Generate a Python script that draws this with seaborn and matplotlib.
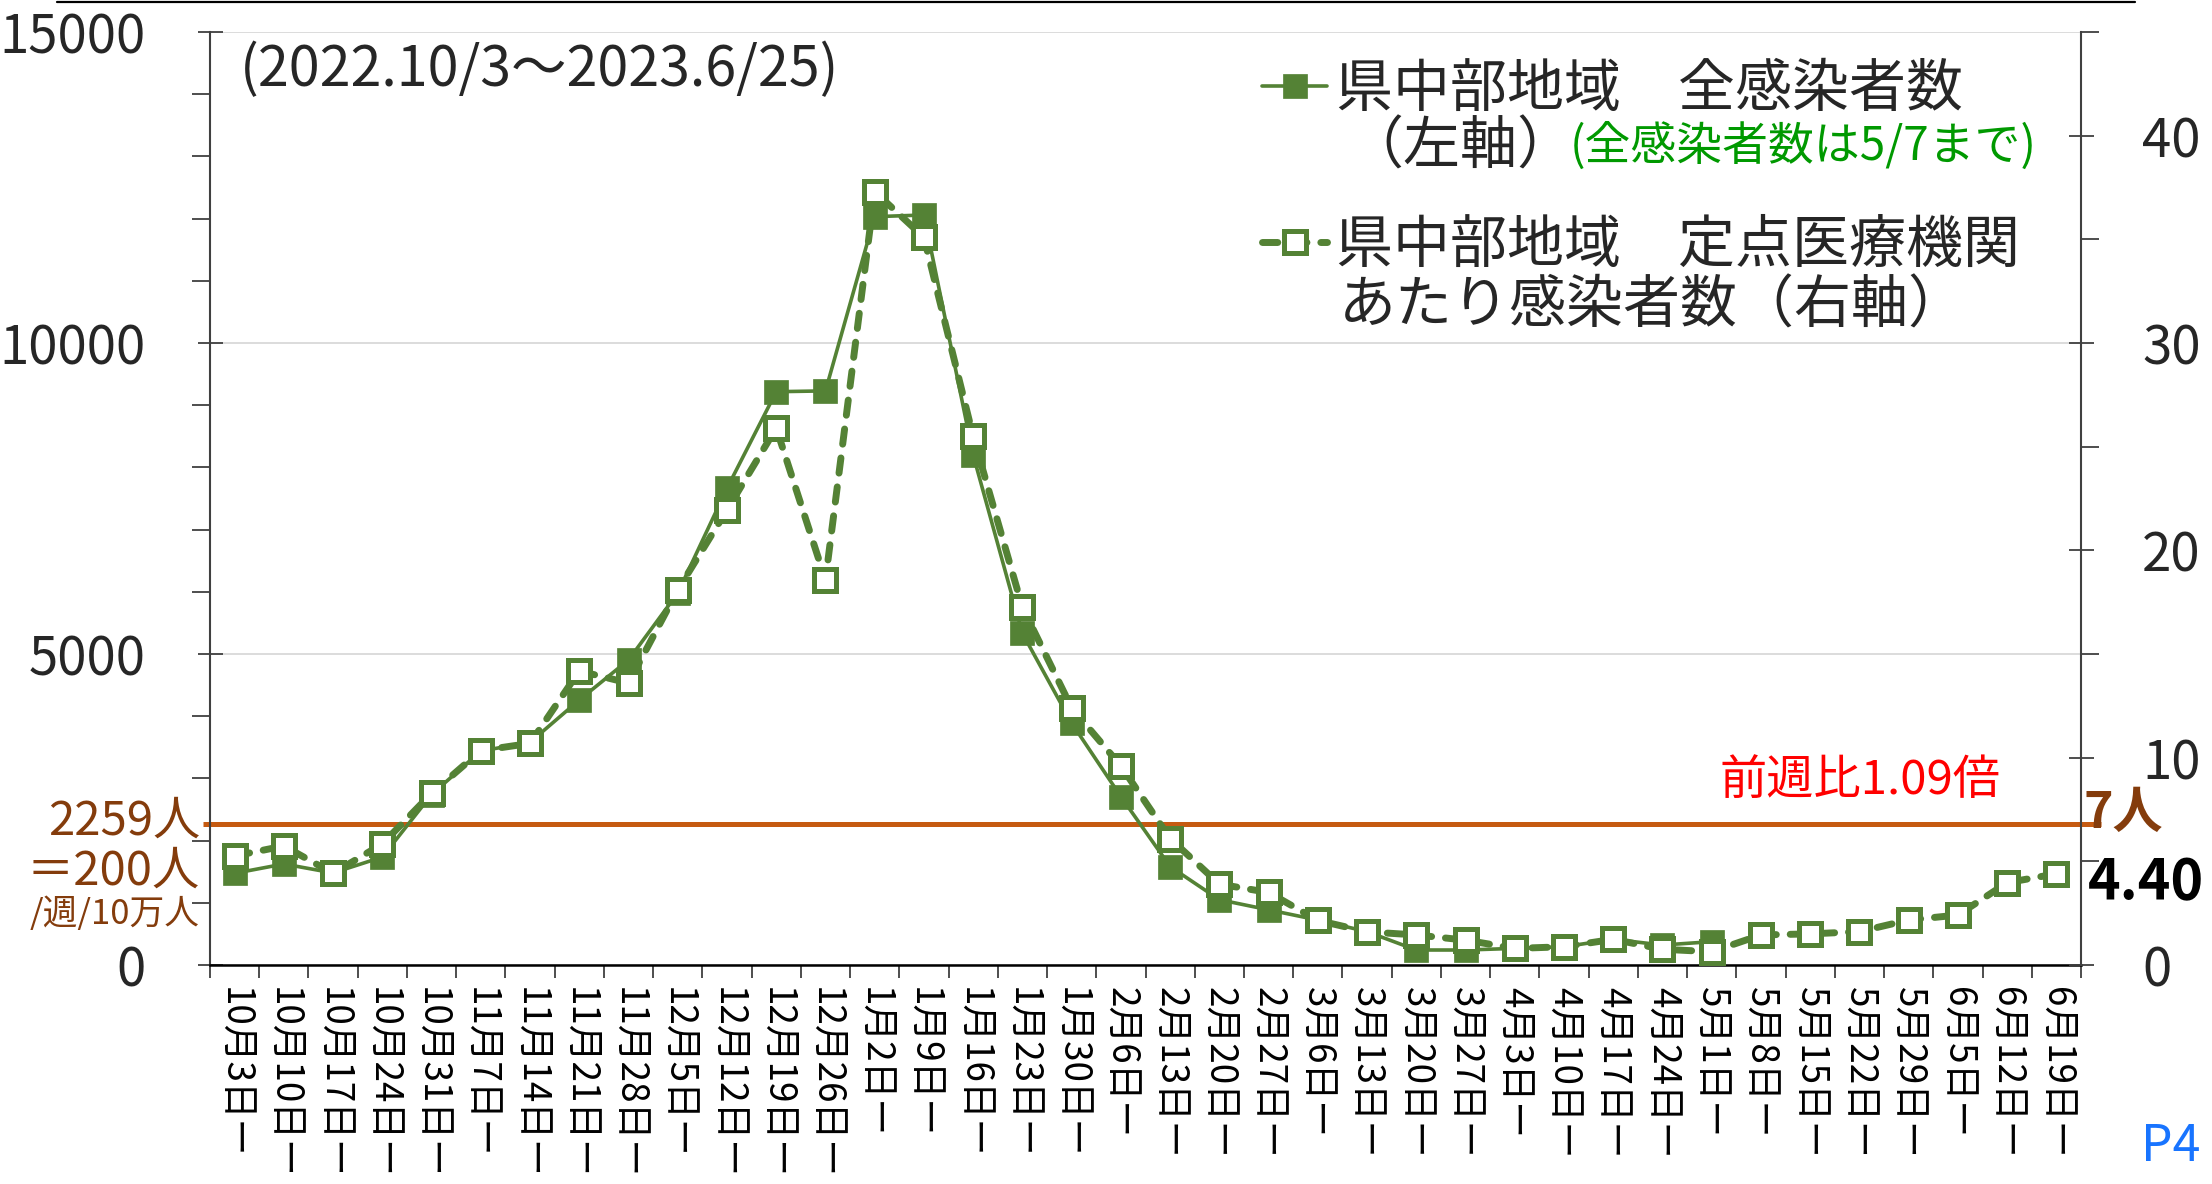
import numpy as np
import pandas as pd
import matplotlib
matplotlib.use("Agg")
import matplotlib.pyplot as plt
from matplotlib.lines import Line2D
from matplotlib.ticker import FixedLocator, NullFormatter
import seaborn as sns

# ---------------- data ----------------
weeks = ["10月3日ー", "10月10日ー", "10月17日ー", "10月24日ー", "10月31日ー",
         "11月7日ー", "11月14日ー", "11月21日ー", "11月28日ー", "12月5日ー",
         "12月12日ー", "12月19日ー", "12月26日ー", "1月2日ー", "1月9日ー",
         "1月16日ー", "1月23日ー", "1月30日ー", "2月6日ー", "2月13日ー",
         "2月20日ー", "2月27日ー", "3月6日ー", "3月13日ー", "3月20日ー",
         "3月27日ー", "4月3日ー", "4月10日ー", "4月17日ー", "4月24日ー",
         "5月1日ー", "5月8日ー", "5月15日ー", "5月22日ー", "5月29日ー",
         "6月5日ー", "6月12日ー", "6月19日ー"]

# 県中部地域 全感染者数 (left axis, until 5/7)
all_infected = [1474, 1624, 1480, 1736, 2740, 3440, 3580, 4260, 4904, 5980,
                7664, 9217, 9230, 12031, 12058, 8199, 5333, 3890, 2707, 1582,
                1050, 887, 723, 536, 241, 241, 267, 293, 413, 321, 375]

# 県中部地域 定点医療機関あたり感染者数 (right axis)
sentinel = [5.26, 5.74, 4.42, 5.84, 8.28, 10.34, 10.69, 14.18, 13.6, 18.09,
            21.95, 25.9, 18.57, 37.3, 35.1, 25.5, 17.25, 12.4, 9.6, 6.1,
            3.9, 3.5, 2.15, 1.6, 1.45, 1.2, 0.8, 0.88, 1.24, 0.76,
            0.64, 1.45, 1.5, 1.61, 2.17, 2.41, 3.97, 4.40]

threshold_all = 2259
left_ticks = [0, 5000, 10000, 15000]
right_ticks = [0, 10, 20, 30, 40]
right_minor = [5, 15, 25, 35, 45]

# ---------------- style ----------------
sns.set_theme(style="white")
plt.rcParams['font.family'] = ['Noto Sans CJK JP', 'DejaVu Sans']

GREEN = "#548235"
ORANGE = "#C55A11"
BROWN = "#843C0C"
AXC = "#404040"

W, H = 2212, 1184
fig = plt.figure(figsize=(W / 100, H / 100), dpi=100)
L, R, T, B = 210, 2081, 32, 965
ax = fig.add_axes([L / W, 1 - B / H, (R - L) / W, (B - T) / H])
ax2 = ax.twinx()

df_all = pd.DataFrame({"idx": np.arange(len(all_infected)), "value": all_infected})
df_sen = pd.DataFrame({"idx": np.arange(len(sentinel)), "value": sentinel})

ax.hlines(threshold_all, -0.65, 37.9, color=ORANGE, lw=3.6, zorder=1.5, clip_on=False)

sns.lineplot(data=df_all, x="idx", y="value", ax=ax, color=GREEN, lw=2.6,
             marker="s", markersize=17, markerfacecolor=GREEN,
             markeredgecolor=GREEN, markeredgewidth=0.5, zorder=3)
sns.lineplot(data=df_sen, x="idx", y="value", ax=ax2, color=GREEN, lw=5,
             linestyle=(0, (2.2, 2.0)), dash_capstyle="round",
             marker="s", markersize=16.5, markerfacecolor="white",
             markeredgecolor=GREEN, markeredgewidth=3.6, zorder=3)

# ---------------- axes ----------------
ax.set_xlim(-0.5, len(weeks) - 0.5)
ax.set_ylim(0, 15000)
ax2.set_ylim(0, 45)
ax.set_xlabel("")
ax.set_ylabel("")
ax2.set_ylabel("")

ax.xaxis.set_major_locator(FixedLocator(np.arange(-0.5, len(weeks), 1)))
ax.xaxis.set_major_formatter(NullFormatter())
ax.xaxis.set_minor_locator(FixedLocator(np.arange(len(weeks))))
ax.set_xticklabels(weeks, minor=True, rotation=-90)
ax.tick_params(axis="x", which="major", bottom=True, direction="out",
               length=9, width=1.3, color=AXC)
ax.tick_params(axis="x", which="minor", bottom=True, length=0, pad=16,
               labelsize=26.5, labelcolor="black")

ax.yaxis.set_major_locator(FixedLocator(left_ticks))
ax.yaxis.set_minor_locator(FixedLocator(np.arange(0, 15001, 1000)))
ax.tick_params(axis="y", which="major", left=True, direction="inout",
               length=18, width=1.3, color=AXC, labelsize=38, pad=37)
ax.tick_params(axis="y", which="minor", left=True, direction="out",
               length=13, width=1.3, color=AXC)

ax2.yaxis.set_major_locator(FixedLocator(right_ticks))
ax2.yaxis.set_minor_locator(FixedLocator(right_minor))
ax2.tick_params(axis="y", which="major", right=True, direction="inout",
                length=18, width=1.3, color=AXC, labelsize=38, pad=35)
ax2.tick_params(axis="y", which="minor", right=True, direction="out",
                length=13, width=1.3, color=AXC)

ax.yaxis.grid(True, which="major", color="#D9D9D9", lw=1.3)
ax.xaxis.grid(False)
ax2.grid(False)

for a in (ax, ax2):
    a.spines["top"].set_visible(False)
ax.spines["right"].set_visible(False)
ax.spines["left"].set_color(AXC)
ax.spines["left"].set_linewidth(1.5)
ax.spines["bottom"].set_color("black")
ax.spines["bottom"].set_linewidth(1.8)
ax2.spines["left"].set_visible(False)
ax2.spines["bottom"].set_visible(False)
ax2.spines["right"].set_color(AXC)
ax2.spines["right"].set_linewidth(1.5)

# ---------------- legend ----------------
h1 = ax.lines[-1]
h2 = ax2.lines[-1]
ax.legend(handles=[h1, h2], labels=["県中部地域　全感染者数", "県中部地域　定点医療機関"],
          loc="upper left", bbox_to_anchor=(1262 / W, 1 - 60 / H),
          bbox_transform=fig.transFigure, frameon=False, fontsize=41,
          handlelength=1.15, handletextpad=0.15, labelspacing=1.72,
          borderpad=0, borderaxespad=0)

fig.text(1346 / W, 1 - 147 / H, "（左軸）", fontsize=41, va="center", ha="left")
fig.text(2037 / W, 1 - 147 / H, "(全感染者数は5/7まで)", fontsize=33,
         color="#009900", va="center", ha="right")
fig.text(1339 / W, 1 - 306 / H, "あたり感染者数（右軸）", fontsize=41,
         va="center", ha="left")

# ---------------- annotations ----------------
fig.text(240 / W, 1 - 70 / H, "(2022.10/3～2023.6/25)", fontsize=40,
         va="center", ha="left")
fig.text(2000 / W, 1 - 781 / H, "前週比1.09倍", fontsize=34, color="red",
         va="center", ha="right")
fig.text(2083 / W, 1 - 828 / H, "7人", fontsize=36, color=BROWN,
         fontweight="bold", va="baseline", ha="left")
fig.text(2088 / W, 1 - 883 / H, "4.40", fontsize=40, color="black",
         fontweight="bold", va="center", ha="left")

fig.text(200 / W, 1 - 821 / H, "2259人", fontsize=34, color=BROWN,
         va="center", ha="right")
fig.text(200 / W, 1 - 871 / H, "＝200人", fontsize=34, color=BROWN,
         va="center", ha="right")
fig.text(200 / W, 1 - 915 / H, "/週/10万人", fontsize=25, color=BROWN,
         va="center", ha="right")

fig.text(2200 / W, 1 - 1147 / H, "P4", fontsize=36, color="#1874FF",
         va="center", ha="right")

fig.add_artist(Line2D([57 / W, 2135 / W], [1 - 1.5 / H, 1 - 1.5 / H],
                      transform=fig.transFigure, color="black", lw=1.6))

fig.savefig("out.png", dpi=100)
